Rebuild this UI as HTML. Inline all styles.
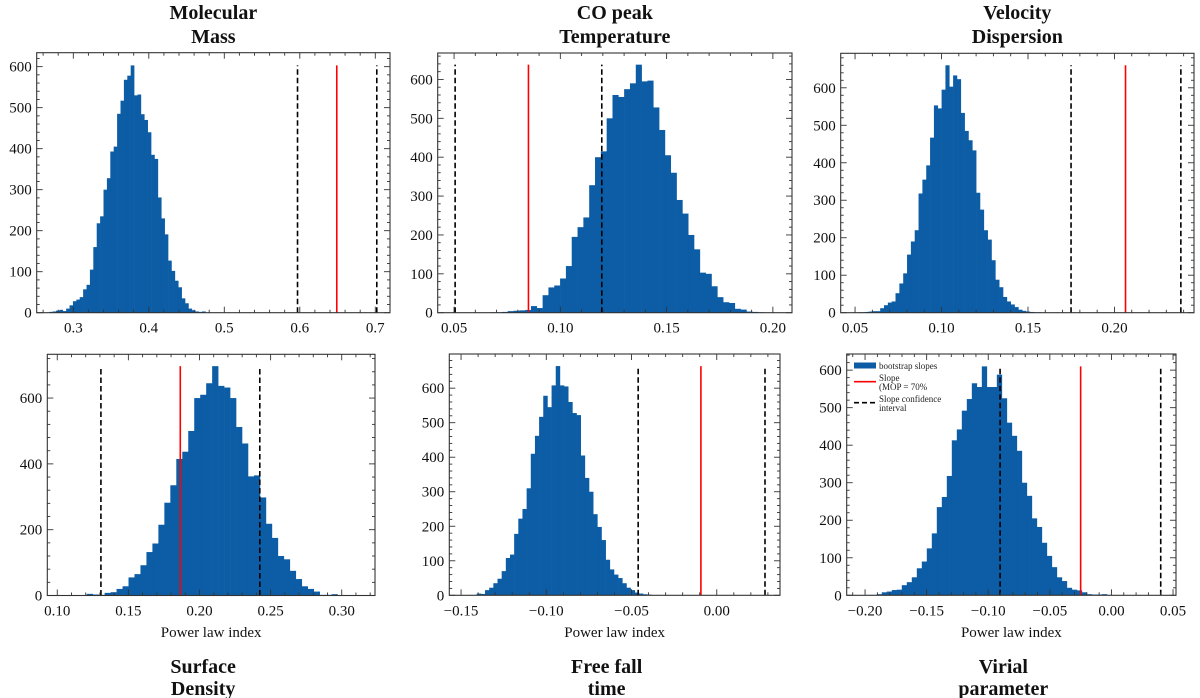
<!DOCTYPE html>
<html><head><meta charset="utf-8"><style>
body{margin:0;background:#fff;}
svg{display:block;font-family:"Liberation Serif",serif;}
</style></head><body>
<svg id="fig" width="1200" height="698" viewBox="0 0 1200 698"></svg>
<script>
const massCounts=[2,3,5,7,4,10,18,28,32,38,57,68,105,160,218,235,300,328,393,405,485,517,568,578,603,530,532,484,470,440,385,375,281,230,191,127,102,78,62,35,23,10,6,3,2,3];
const tempCounts=[1,1,2,4,5,6,7,17,12,45,65,70,88,120,195,220,245,328,400,415,500,560,555,575,590,638,595,597,528,470,405,360,290,255,200,163,103,100,68,40,27,25,10,8,3,2,1];
const dispCounts=[1,1,2,3,4,4,12,20,27,30,52,78,105,155,190,220,318,355,393,467,553,545,595,660,603,633,623,533,485,460,433,320,275,220,195,140,88,68,42,30,22,15,8,5,3,2,1,1];
const surfCounts=[5,3,2,8,10,20,28,55,65,92,132,158,215,282,335,415,437,500,600,610,645,697,637,632,600,512,462,362,365,298,218,175,120,110,75,50,28,20,12,2,2,4,1,0,1];
const ffCounts=[1,1,5,4,15,22,35,48,70,108,118,178,222,250,310,410,462,517,578,545,608,664,608,605,560,528,522,405,340,300,235,198,160,103,75,60,50,35,22,15,8,5,3,2,0,1];
const virCounts=[1,1,3,8,10,14,15,27,35,48,72,90,125,165,235,262,318,413,442,492,523,565,555,610,555,555,588,525,460,425,385,300,265,205,182,140,105,75,48,38,20,15,13,8,3,2,2,3,1];
const binStarts=[0.268,0.067,0.0512,0.1207,-0.1457,-0.1986];
const binWidths=[0.0045,0.00274,0.00222,0.0042,0.00244,0.00406];
const slopeValues=[0.649,0.085,0.2064,0.1865,-0.0093,-0.025];
const ciLow=[0.597,0.0505,0.1749,0.1307,-0.0461,-0.0904];
const ciHigh=[0.702,0.1195,0.2384,0.2424,0.0283,0.04];
const titles=[["Molecular","Mass"],["CO peak","Temperature"],["Velocity","Dispersion"],["Surface","Density"],["Free fall","time"],["Virial","parameter"]];
const allCounts=[massCounts,tempCounts,dispCounts,surfCounts,ffCounts,virCounts];

const layout=[
 {x0:36.7,x1:390,y0:312.7,y1:52.7,xmin:0.2515,xmax:0.7195,ymax:634,xmaj:0.1,xmin_:0.02,dec:1,ymaj:100,ymn:20,top:true},
 {x0:437.7,x1:792,y0:312.7,y1:53,xmin:0.0423,xmax:0.209,ymax:668,xmaj:0.05,xmin_:0.01,dec:2,ymaj:100,ymn:20,top:true},
 {x0:840.7,x1:1194,y0:312.7,y1:53.3,xmin:0.0417,xmax:0.246,ymax:692,xmaj:0.05,xmin_:0.01,dec:2,ymaj:100,ymn:20,top:true},
 {x0:47.3,x1:375,y0:595.5,y1:354.3,xmin:0.093,xmax:0.3234,ymax:733,xmaj:0.05,xmin_:0.01,dec:2,ymaj:200,ymn:40,top:false},
 {x0:449.3,x1:780,y0:595.3,y1:354,xmin:-0.1569,xmax:0.0371,ymax:699,xmaj:0.05,xmin_:0.01,dec:2,ymaj:100,ymn:20,top:false},
 {x0:846.7,x1:1176,y0:595.3,y1:354,xmin:-0.2149,xmax:0.0524,ymax:643,xmaj:0.05,xmin_:0.01,dec:2,ymaj:100,ymn:20,top:false}
];
const NS="http://www.w3.org/2000/svg";
const fig=document.getElementById('fig');
function mk(tag,attrs,parent){const e=document.createElementNS(NS,tag);for(const k in attrs)e.setAttribute(k,attrs[k]);(parent||fig).appendChild(e);return e;}
const names=["molecular-mass","co-peak-temperature","velocity-dispersion","surface-density","free-fall-time","virial-parameter"];
layout.forEach((L,p)=>{
 const g=mk('g',{});
 
 
 const sx=v=>L.x0+(v-L.xmin)/(L.xmax-L.xmin)*(L.x1-L.x0);
 const sy=v=>L.y0-(v/L.ymax)*(L.y0-L.y1);
 const counts=allCounts[p];
 counts.forEach((c,i)=>{
  if(c<=0)return;
  const a=binStarts[p]+i*binWidths[p], b=a+binWidths[p];
  const r=mk('rect',{x:sx(a),y:sy(c),width:sx(b)-sx(a)+0.3,height:L.y0-sy(c),fill:'#0C5DA5'},g);
  
  
 });
 const hmax=Math.max(...counts);
 [ciLow[p],ciHigh[p]].forEach(v=>{
  const l=mk('line',{x1:sx(v),x2:sx(v),y1:L.y0,y2:sy(hmax),stroke:'#000','stroke-width':1.6,'stroke-dasharray':'5.5,3'},g);
  
  
 });
 const rl=mk('line',{x1:sx(slopeValues[p]),x2:sx(slopeValues[p]),y1:L.y0,y2:sy(hmax),stroke:'#ff0000','stroke-width':1.6},g);
 
 
 const fr=mk('rect',{x:L.x0,y:L.y1,width:L.x1-L.x0,height:L.y0-L.y1,fill:'none',stroke:'#333','stroke-width':1.1},g);
 
 
 const eps=1e-9;
 let start=Math.ceil((L.xmin-eps)/L.xmin_)*L.xmin_;
 for(let v=start;v<=L.xmax+eps;v+=L.xmin_){
  const X=sx(v);
  const isMaj=Math.abs(Math.round(v/L.xmaj)*L.xmaj-v)<1e-6;
  const len=isMaj?6:3;
  mk('line',{x1:X,x2:X,y1:L.y0,y2:L.y0-len,stroke:'#333','stroke-width':0.9},g);
  mk('line',{x1:X,x2:X,y1:L.y1,y2:L.y1+len,stroke:'#333','stroke-width':0.9},g);
  if(isMaj){
   const t=mk('text',{x:X,y:L.y0+20,'text-anchor':'middle','font-size':15,fill:'#111'},g);
   let s=(Math.round(v/L.xmaj)*L.xmaj).toFixed(L.dec);
   if(s.startsWith('-'))s='\u2212'+s.slice(1);
   t.textContent=s;
   
   
  }
 }
 for(let v=0;v<=L.ymax;v+=L.ymn){
  const Y=sy(v);
  const isMaj=v%L.ymaj===0;
  const len=isMaj?6:3;
  mk('line',{x1:L.x0,x2:L.x0+len,y1:Y,y2:Y,stroke:'#333','stroke-width':0.9},g);
  mk('line',{x1:L.x1,x2:L.x1-len,y1:Y,y2:Y,stroke:'#333','stroke-width':0.9},g);
  if(isMaj){
   const t=mk('text',{x:L.x0-5,y:Y+5,'text-anchor':'end','font-size':15,fill:'#111'},g);
   t.textContent=String(v);
   
   
  }
 }
 const cx=(L.x0+L.x1)/2;
 if(L.top){
  const t1=mk('text',{x:cx,y:19,'text-anchor':'middle','font-size':20,'font-weight':'bold',fill:'#111'},g);
  t1.textContent=titles[p][0];
  
  
  const t2=mk('text',{x:cx,y:43,'text-anchor':'middle','font-size':20,'font-weight':'bold',fill:'#111'},g);
  t2.textContent=titles[p][1];
  
  
 } else {
  const xl=mk('text',{x:cx,y:637,'text-anchor':'middle','font-size':15,fill:'#111'},g);
  xl.textContent='Power law index';
  
  
  const t1=mk('text',{x:cx-8,y:673,'text-anchor':'middle','font-size':20,'font-weight':'bold',fill:'#111'},g);
  t1.textContent=titles[p][0];
  
  
  const t2=mk('text',{x:cx-8,y:695,'text-anchor':'middle','font-size':20,'font-weight':'bold',fill:'#111'},g);
  t2.textContent=titles[p][1];
  
  
 }
});
const lg=mk('g',{});


mk('rect',{x:854,y:362.5,width:22,height:6,fill:'#0C5DA5'},lg);
mk('line',{x1:854,x2:876,y1:381.7,y2:381.7,stroke:'#ff0000','stroke-width':1.6},lg);
mk('line',{x1:854,x2:876,y1:402.7,y2:402.7,stroke:'#000','stroke-width':1.6,'stroke-dasharray':'5,3'},lg);
[["bootstrap slopes",369],["Slope",381],["(MOP = 70%",390],["Slope confidence",402],["interval",411]].forEach(([s,y])=>{
 const t=mk('text',{x:879,y:y,'font-size':9,fill:'#222'},lg);
 t.textContent=s;
 
 
});
</script>
</body></html>
